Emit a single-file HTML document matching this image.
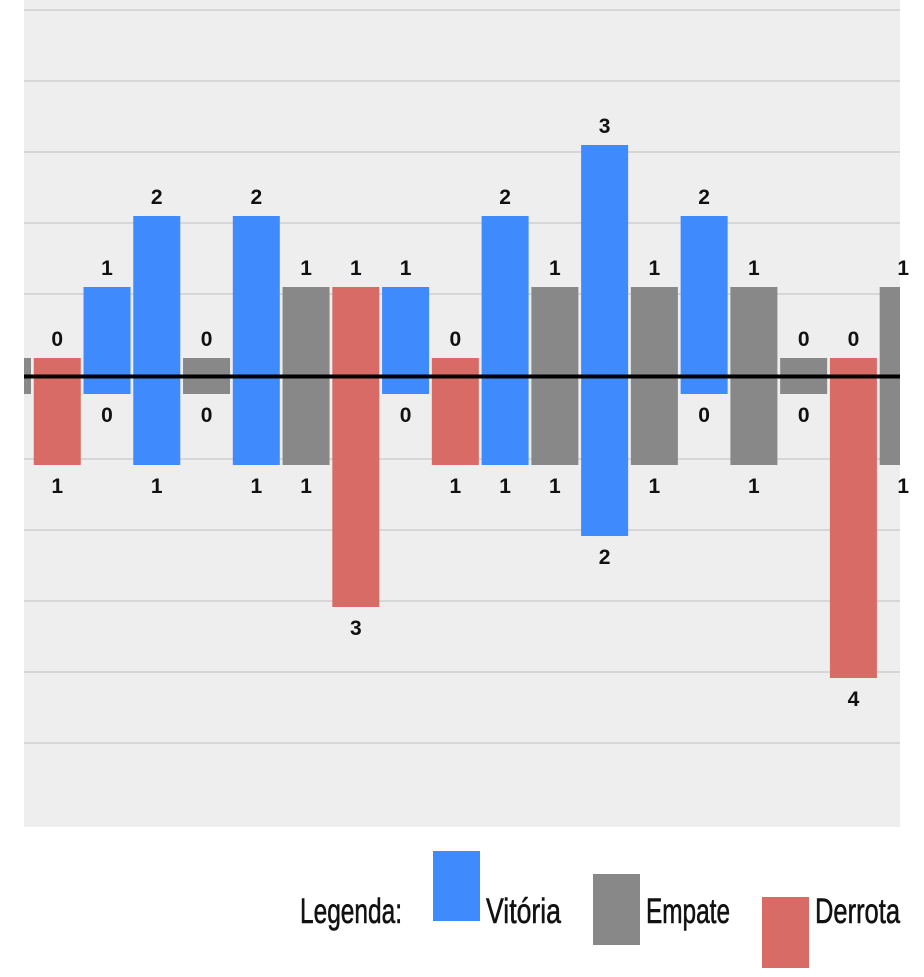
<!DOCTYPE html>
<html><head><meta charset="utf-8"><style>
html,body{margin:0;padding:0;background:#fff;width:924px;height:977px;overflow:hidden}
svg{display:block}
text{font-family:"Liberation Sans Narrow","Liberation Sans",sans-serif}
</style></head><body>
<svg id="chart" width="924" height="977" viewBox="0 0 924 977">
<defs><clipPath id="plotClip"><rect x="24" y="0" width="876" height="827"/></clipPath></defs>
<rect x="24" y="0" width="876" height="827" fill="#eeeeee"/>
<g id="grid" clip-path="url(#plotClip)"></g>
<g id="bars" clip-path="url(#plotClip)"></g>
<line x1="24" x2="900" y1="376.5" y2="376.5" stroke="#000" stroke-width="4"/>
<g id="labels"></g>
<g stroke="#111" stroke-width="0.6">
<text x="300" y="923" font-size="35" textLength="102" lengthAdjust="spacingAndGlyphs" fill="#111">Legenda:</text>
<rect x="433" y="851" width="47" height="70" fill="#3f8bfd" stroke="none"/>
<text x="486" y="923" font-size="35" textLength="75" lengthAdjust="spacingAndGlyphs" fill="#111">Vitória</text>
<rect x="593" y="874" width="47" height="71" fill="#888888" stroke="none"/>
<text x="646" y="923" font-size="35" textLength="84" lengthAdjust="spacingAndGlyphs" fill="#111">Empate</text>
<rect x="762" y="897" width="47" height="71" fill="#d96b66" stroke="none"/>
<text x="815" y="923" font-size="35" textLength="85" lengthAdjust="spacingAndGlyphs" fill="#111">Derrota</text>
</g>
</svg>
<script>
const results = ["E","D","V","V","E","V","E","D","V","D","V","E","V","E","V","E","E","D","E"];
const goalsFor = [0,0,1,2,0,2,1,1,1,0,2,1,3,1,2,1,0,0,1];
const goalsAgainst = [0,1,0,1,0,1,1,3,0,1,1,1,2,1,0,1,0,4,1];
const gridGoals = [5,4,3,2,1,-1,-2,-3,-4,-5];

const NS="http://www.w3.org/2000/svg";
const colors={V:"#3f8bfd",E:"#888888",D:"#d96b66"};
const x0=-16, step=49.76, bw=47, base=376, unit=71, offset=18;
function xPos(i){return x0+i*step;}
function yUp(v){return base-offset-unit*v;}
function yDown(v){return base+offset+unit*v;}
const grid=document.getElementById('grid'), bars=document.getElementById('bars'), labels=document.getElementById('labels');
gridGoals.forEach(g=>{
  const y = g>0 ? yUp(g)+7 : yDown(-g)-6;
  const l=document.createElementNS(NS,'line');
  
  
  l.setAttribute('x1',24);l.setAttribute('x2',900);l.setAttribute('y1',y);l.setAttribute('y2',y);
  l.setAttribute('stroke','#d6d6d6');l.setAttribute('stroke-width','2');
  grid.appendChild(l);
});
results.forEach((r,i)=>{
  const x=xPos(i);
  const top=yUp(goalsFor[i]), bot=yDown(goalsAgainst[i]);
  const rect=document.createElementNS(NS,'rect');
  
  
  rect.setAttribute('x',x);rect.setAttribute('y',top);rect.setAttribute('width',bw);rect.setAttribute('height',bot-top);
  rect.setAttribute('fill',colors[r]);
  bars.appendChild(rect);
  const t1=document.createElementNS(NS,'text');
  
  
  t1.setAttribute('x',x+bw/2);t1.setAttribute('y',top-12);t1.setAttribute('text-anchor','middle');
  t1.setAttribute('font-size','21');t1.setAttribute('font-weight','bold');t1.setAttribute('fill','#111');
  t1.textContent=goalsFor[i];
  const t2=document.createElementNS(NS,'text');
  
  
  t2.setAttribute('x',x+bw/2);t2.setAttribute('y',bot+28);t2.setAttribute('text-anchor','middle');
  t2.setAttribute('font-size','21');t2.setAttribute('font-weight','bold');t2.setAttribute('fill','#111');
  t2.textContent=goalsAgainst[i];
  if(x>=24 && x+bw/2<=905){labels.appendChild(t1);labels.appendChild(t2);}
});
</script>
</body></html>
